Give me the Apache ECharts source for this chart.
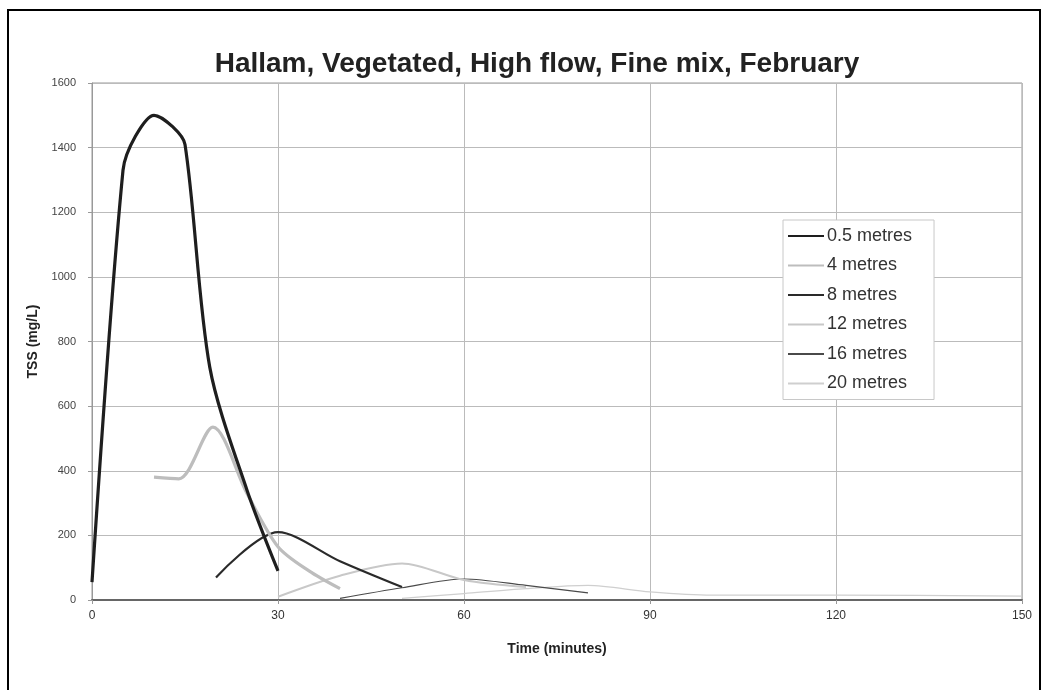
<!DOCTYPE html>
<html>
<head>
<meta charset="utf-8">
<script src="https://cdn.jsdelivr.net/npm/echarts@6/dist/echarts.min.js"></script>
<style>html,body{margin:0;padding:0;background:#fff}#c{width:1047px;height:690px}</style>
</head>
<body>
<div id="c"></div>
<script>
const xTicks = [0, 30, 60, 90, 120, 150];
const yTicks = [0, 200, 400, 600, 800, 1000, 1200, 1400, 1600];

const names = ['0.5 metres', '4 metres', '8 metres', '12 metres', '16 metres', '20 metres'];

const t05 = [0, 5, 7, 10, 13, 15, 19, 25, 30];
const v05 = [55, 1330, 1435, 1500, 1465, 1410, 720, 340, 90];

const t4 = [10, 14, 19.5, 25, 30, 35, 40];
const v4 = [380, 375, 535, 330, 165, 90, 35];

const t8 = [20, 30, 40, 50];
const v8 = [70, 210, 120, 40];

const t12 = [30, 40, 50, 60, 70];
const v12 = [10, 75, 113, 62, 40];

const t16 = [40, 50, 60, 70, 80];
const v16 = [5, 38, 65, 45, 22];

const t20 = [50, 60, 70, 80, 90, 100, 120, 150];
const v20 = [5, 20, 35, 45, 25, 15, 15, 12];

const pairs = (t, v) => t.map((x, i) => [x, v[i]]);

const styles = [
  {color: '#1e1e1e', width: 3.2},
  {color: '#bdbdbd', width: 3.2},
  {color: '#2a2a2a', width: 2.2},
  {color: '#c8c8c8', width: 2},
  {color: '#4a4a4a', width: 1.2},
  {color: '#cfcfcf', width: 1.2}
];
const datasets = [pairs(t05, v05), pairs(t4, v4), pairs(t8, v8), pairs(t12, v12), pairs(t16, v16), pairs(t20, v20)];

const chart = echarts.init(document.getElementById('c'));
const font = 'Liberation Sans, Arial, sans-serif';
chart.setOption({
  animation: false,
  backgroundColor: '#fff',
  textStyle: {fontFamily: font},
  title: {
    text: 'Hallam, Vegetated, High flow, Fine mix, February',
    left: 532, top: 45, textAlign: 'center',
    textStyle: {fontFamily: font, fontSize: 28, fontWeight: 'bold', color: '#222'}
  },
  graphic: [{
    type: 'rect', shape: {x: 8, y: 10, width: 1032, height: 700},
    style: {fill: 'none', stroke: '#000', lineWidth: 2}, silent: true
  }],
  grid: {left: 92, right: 25, top: 83, bottom: 90, show: true, borderColor: '#999', borderWidth: 1},
  legend: {
    data: names, orient: 'vertical', left: 783, top: 220,
    padding: [7, 22, 7, 4],
    backgroundColor: '#fff', borderColor: '#c8c8c8', borderWidth: 1,
    itemWidth: 36, itemHeight: 16, itemGap: 11.5, itemStyle: {opacity: 0},
    textStyle: {fontFamily: font, fontSize: 18, color: '#333', padding: [0, 0, 0, -2]}
  },
  xAxis: {
    type: 'value', min: 0, max: 150, interval: 30,
    name: 'Time (minutes)', nameLocation: 'middle', nameGap: 42,
    nameTextStyle: {fontFamily: font, fontSize: 14, fontWeight: 'bold', color: '#222'},
    axisLine: {show: true, lineStyle: {color: '#666', width: 2}},
    axisTick: {show: true, length: 4, lineStyle: {color: '#999'}},
    axisLabel: {fontFamily: font, fontSize: 12, color: '#333', margin: 10,
      formatter: v => xTicks.includes(v) ? String(v) : ''},
    splitLine: {show: true, lineStyle: {color: '#bbb', width: 1}}
  },
  yAxis: {
    type: 'value', min: 0, max: 1600, interval: 200,
    name: 'TSS (mg/L)', nameLocation: 'middle', nameGap: 42, nameRotate: 90,
    nameTextStyle: {fontFamily: font, fontSize: 14, fontWeight: 'bold', color: '#222'},
    axisLine: {show: true, lineStyle: {color: '#999', width: 1}},
    axisTick: {show: true, length: 4, lineStyle: {color: '#999'}},
    axisLabel: {fontFamily: font, fontSize: 11, color: '#444', margin: 16,
      formatter: v => yTicks.includes(v) ? String(v) : ''},
    splitLine: {show: true, lineStyle: {color: '#bbb', width: 1}}
  },
  series: names.map((n, i) => ({
    name: n, type: 'line', data: datasets[i], symbol: 'none',
    smooth: 0.3,
    lineStyle: {color: styles[i].color, width: styles[i].width},
    itemStyle: {color: styles[i].color},
    z: 10 - i
  }))
});
</script>
</body>
</html>
